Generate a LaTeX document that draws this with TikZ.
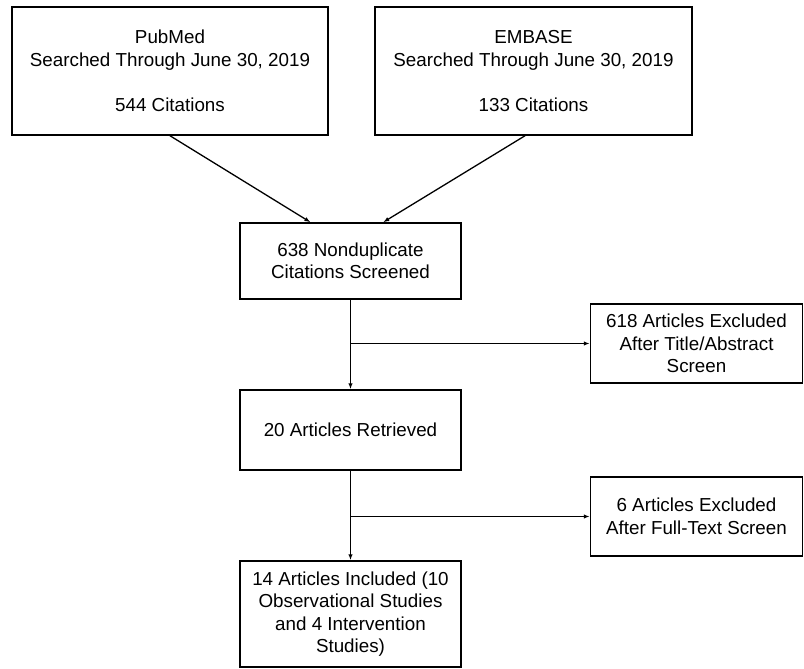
\documentclass[tikz,border=0pt]{standalone}
\usepackage{fontspec}
\setmainfont{Liberation Sans}
\usetikzlibrary{arrows.meta,calc}
\begin{document}
\begin{tikzpicture}[x=1pt,y=-1pt,
  box/.style={draw=black,line width=1.5pt,rectangle,align=center,inner sep=0pt,
    font=\fontsize{18.8}{22.5}\selectfont},
  conn/.style={line width=1.3pt,-{Latex[length=6pt,width=4.5pt]}},
  plain/.style={line width=1.3pt}]
\useasboundingbox (0,0) rectangle (804,669);
\node[box,minimum width=316pt,minimum height=128pt] (pub) at (170,71)
  {PubMed\\Searched Through June 30, 2019\\[22.5pt]544 Citations};
\node[box,minimum width=317pt,minimum height=128pt] (emb) at (533.5,71)
  {EMBASE\\Searched Through June 30, 2019\\[22.5pt]133 Citations};
\node[box,minimum width=221pt,minimum height=76pt] (nd) at (350.5,261)
  {638 Nonduplicate\\Citations Screened};
\node[box,minimum width=212pt,minimum height=79pt] (ex1) at (696.5,343.5)
  {618 Articles Excluded\\After Title/Abstract\\Screen};
\node[box,minimum width=221pt,minimum height=80pt] (ret) at (350.5,430)
  {20 Articles Retrieved};
\node[box,minimum width=212pt,minimum height=79pt] (ex2) at (696.5,516.5)
  {6 Articles Excluded\\After Full-Text Screen};
\node[box,minimum width=221pt,minimum height=106pt] (inc) at (350.5,614)
  {14 Articles Included (10\\Observational Studies\\and 4 Intervention\\Studies)};
\draw[conn] (pub.south) -- ($(nd.north west)!0.32!(nd.north east)$);
\draw[conn] ($(emb.south)+(-8.5,0)$) -- ($(nd.north west)!0.647!(nd.north east)$);
\draw[conn] (nd.south) -- (ret.north);
\coordinate (b1) at (nd.south |- ex1.west);
\draw[conn] (b1) -- (ex1.west);
\draw[conn] (ret.south) -- (inc.north);
\coordinate (b2) at (ret.south |- ex2.west);
\draw[conn] (b2) -- (ex2.west);
\end{tikzpicture}
\end{document}
